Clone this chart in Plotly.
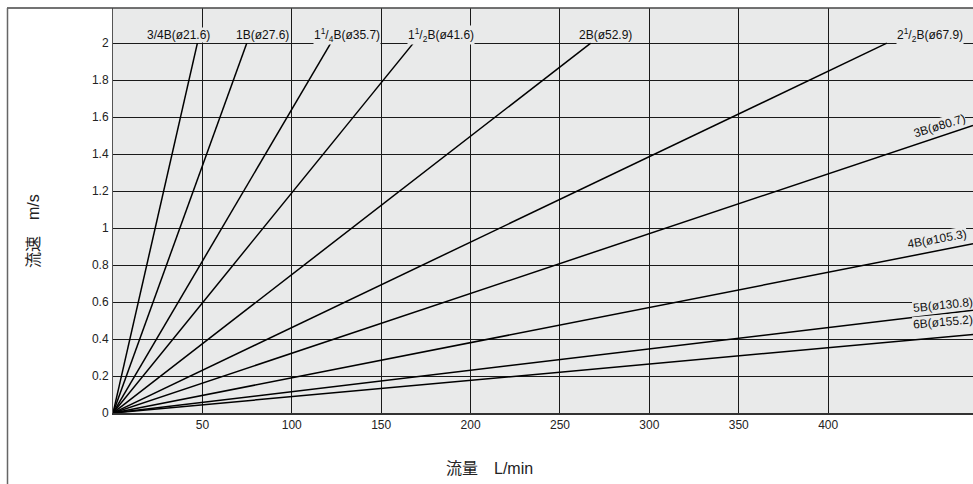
import plotly.graph_objects as go

# Pipe sizes (label text), line end points
labels = ["3/4B(ø21.6)", "1B(ø27.6)", "1<sup>1</sup>/<sub>4</sub>B(ø35.7)",
          "1<sup>1</sup>/<sub>2</sub>B(ø41.6)", "2B(ø52.9)",
          "2<sup>1</sup>/<sub>2</sub>B(ø67.9)", "3B(ø80.7)", "4B(ø105.3)",
          "5B(ø130.8)", "6B(ø155.2)"]
end_flow = [47.2, 74.8, 121.8, 168.0, 267.2, 432.8, 481, 481, 481, 481]     # L/min
end_velocity = [2.0, 2.0, 2.0, 2.0, 2.0, 2.0, 1.555, 0.915, 0.555, 0.425]  # m/s

# Label anchor positions (data coords) and rotation
label_flow = [36.9, 83.8, 130.7, 183.3, 275.2, 457.0, 462.0, 461.0, 464.0, 464.0]
label_velocity = [2.045, 2.045, 2.045, 2.045, 2.045, 2.045, 1.55, 0.94, 0.583, 0.491]
label_angle = [0, 0, 0, 0, 0, 0, -17, -10, -6, -5]

x_ticks = [50, 100, 150, 200, 250, 300, 350, 400]
y_ticks = [0, 0.2, 0.4, 0.6, 0.8, 1, 1.2, 1.4, 1.6, 1.8, 2]
y_tick_text = ["0", "0.2", "0.4", "0.6", "0.8", "1", "1.2", "1.4", "1.6", "1.8", "2"]

FONT = "Liberation Sans, Arial, Noto Sans CJK JP, sans-serif"
BG = "#e9eaea"

fig = go.Figure()
for lab, q, v in zip(labels, end_flow, end_velocity):
    fig.add_trace(go.Scatter(x=[0, q], y=[0, v], mode="lines",
                             line=dict(color="black", width=1.5),
                             name=lab, showlegend=False, hoverinfo="skip"))

for lab, q, v, a in zip(labels, label_flow, label_velocity, label_angle):
    fig.add_annotation(x=q, y=v, text=lab, showarrow=False, textangle=a,
                       xanchor="center", yanchor="middle",
                       font=dict(family=FONT, size=12, color="#111"),
                       bgcolor=BG, borderpad=0)

W, H = 973, 484
L, R, T, B = 113, 0, 8, 71
pw, ph = W - L - R, H - T - B

def px(X):  # page pixel -> paper
    return (X - L) / pw

def py(Y):
    return (H - B - Y) / ph

fig.add_annotation(xref="paper", yref="paper", x=px(489), y=py(468),
                   text="流量　L/min", showarrow=False,
                   xanchor="center", yanchor="middle",
                   font=dict(family=FONT, size=16, color="#222"))
fig.add_annotation(xref="paper", yref="paper", x=px(33.5), y=py(231.5),
                   text="流速　m/s", showarrow=False, textangle=-90,
                   xanchor="center", yanchor="middle",
                   font=dict(family=FONT, size=16, color="#222"))

# outer frame
fig.add_shape(type="line", xref="paper", yref="paper",
              x0=px(7), x1=1.0, y0=1.0, y1=1.0,
              line=dict(color="#444", width=1.5))
fig.add_shape(type="line", xref="paper", yref="paper",
              x0=px(7.5), x1=px(7.5), y0=1.0, y1=py(490),
              line=dict(color="#666", width=1.5))

fig.update_layout(
    width=W, height=H,
    margin=dict(l=L, r=R, t=T, b=B, pad=0),
    paper_bgcolor="white", plot_bgcolor=BG,
    font=dict(family=FONT, size=12, color="#222"),
    xaxis=dict(range=[0, 481], tickvals=x_ticks, ticks="", showgrid=True,
               gridcolor="#1a1a1a", gridwidth=1, zeroline=False,
               showline=True, linecolor="#333", linewidth=1.5,
               tickfont=dict(size=12), fixedrange=True),
    yaxis=dict(range=[0, 2.19], tickvals=y_ticks, ticktext=y_tick_text,
               ticks="outside", ticklen=1, tickcolor="rgba(0,0,0,0)",
               showgrid=True, gridcolor="#1a1a1a", gridwidth=1,
               zeroline=False, showline=True, linecolor="#555", linewidth=1,
               tickfont=dict(size=12), fixedrange=True),
)

fig.write_html(
    "out.html",
    config={"displayModeBar": False, "staticPlot": True},
    post_script="document.body.style.margin='0';document.body.style.overflow='hidden';",
)
